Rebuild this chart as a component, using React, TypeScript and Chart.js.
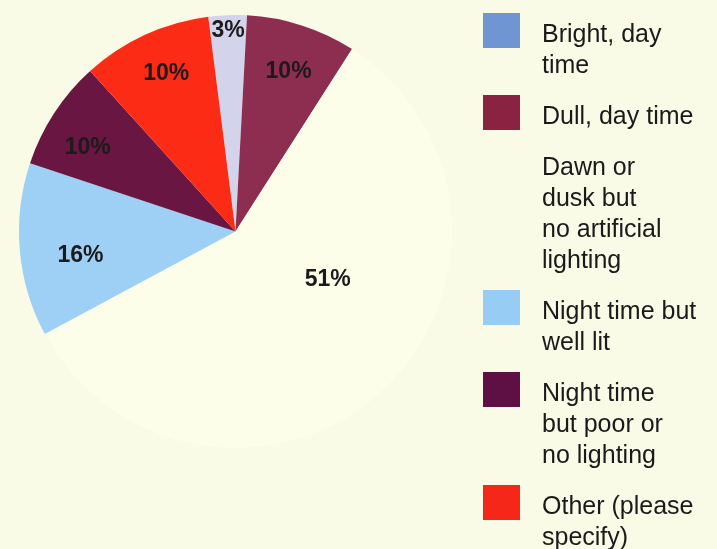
import React, { useEffect, useRef } from "react";
import { Chart, registerables } from "chart.js";

Chart.register(...registerables);

// ---- data ----
const categories = [
  "Bright, day time",
  "Dull, day time",
  "Dawn or dusk but no artificial lighting",
  "Night time but well lit",
  "Night time but poor or no lighting",
  "Other (please specify)",
];
// legend text as printed (wrapped lines)
const legendLines = [
  ["Bright, day", "time"],
  ["Dull, day time"],
  ["Dawn or", "dusk but", "no artificial", "lighting"],
  ["Night time but", "well lit"],
  ["Night time", "but poor or", "no lighting"],
  ["Other (please", "specify)"],
];
// slice shares as drawn in the picture (angular share, %)
const sliceShares = [2.86, 8.2, 58.1, 12.95, 8.18, 9.71];
// percentage labels as printed on the slices
const pctLabels = ["3%", "10%", "51%", "16%", "10%", "10%"];

const BG = "#fafbe7";
const sliceColors = ["#d3d3ec", "#8d2d50", "#fdfeea", "#9ecff4", "#6a1643", "#fb2b16"];
const legendColors = ["#6f95d2", "#8a2241", BG, "#97cdf5", "#5e1045", "#f42719"];

const FONT = "'Liberation Sans', Arial, Helvetica, sans-serif";

// label placement: fraction of radius and angular offset (deg) from slice middle
const labelPlacement = [
  { f: 0.93, d: 0 },
  { f: 0.78, d: 0.5 },
  { f: 0.48, d: -19.8 },
  { f: 0.725, d: -4 },
  { f: 0.785, d: -3.5 },
  { f: 0.795, d: 1 },
];

const bgPlugin = {
  id: "bgFill",
  beforeDraw(chart: any) {
    const { ctx, width, height } = chart;
    ctx.save();
    ctx.fillStyle = BG;
    ctx.fillRect(0, 0, width, height);
    ctx.restore();
  },
};

const sliceLabelPlugin = {
  id: "sliceLabels",
  afterDatasetsDraw(chart: any) {
    const { ctx } = chart;
    const meta = chart.getDatasetMeta(0);
    ctx.save();
    ctx.font = `bold 23px ${FONT}`;
    ctx.fillStyle = "#1c1a1c";
    ctx.textAlign = "center";
    ctx.textBaseline = "middle";
    meta.data.forEach((arc: any, i: number) => {
      const p = arc.getProps(["x", "y", "startAngle", "endAngle", "outerRadius"], true);
      const pl = labelPlacement[i];
      const mid = (p.startAngle + p.endAngle) / 2 + (pl.d * Math.PI) / 180;
      const r = p.outerRadius * pl.f;
      ctx.fillText(pctLabels[i], p.x + Math.cos(mid) * r, p.y + Math.sin(mid) * r);
    });
    ctx.restore();
  },
};

const legendPlugin = {
  id: "sideLegend",
  afterDraw(chart: any) {
    const { ctx } = chart;
    const boxX = 483;
    const boxW = 37;
    const boxH = 35;
    const textX = 542;
    const lineH = 31;
    const gap = 20;
    let top = 13;
    ctx.save();
    ctx.font = `25px ${FONT}`;
    ctx.textAlign = "left";
    ctx.textBaseline = "alphabetic";
    legendLines.forEach((lines, i) => {
      ctx.fillStyle = legendColors[i];
      ctx.fillRect(boxX, top, boxW, boxH);
      ctx.fillStyle = "#1a1a1a";
      lines.forEach((ln, j) => {
        ctx.fillText(ln, textX, top + 29 + j * lineH);
      });
      top += lines.length * lineH + gap;
    });
    ctx.restore();
  },
};

export default function App() {
  const ref = useRef<HTMLCanvasElement | null>(null);
  useEffect(() => {
    document.body.style.margin = "0";
    document.body.style.background = BG;
    const canvas = ref.current;
    if (!canvas) return;
    const chart = new Chart(canvas, {
      type: "pie",
      data: {
        labels: categories,
        datasets: [
          {
            data: sliceShares,
            backgroundColor: sliceColors,
            borderWidth: 0,
          },
        ],
      },
      options: {
        responsive: false,
        animation: false,
        devicePixelRatio: 1,
        rotation: -7.24,
        layout: { padding: { left: 19, top: 15, right: 265, bottom: 101 } },
        plugins: {
          legend: { display: false },
          tooltip: { enabled: false },
        },
      },
      plugins: [bgPlugin, sliceLabelPlugin, legendPlugin],
    });
    return () => chart.destroy();
  }, []);
  return (
    <div style={{ width: 717, height: 549 }}>
      <canvas ref={ref} width={717} height={549} style={{ display: "block" }} />
    </div>
  );
}
